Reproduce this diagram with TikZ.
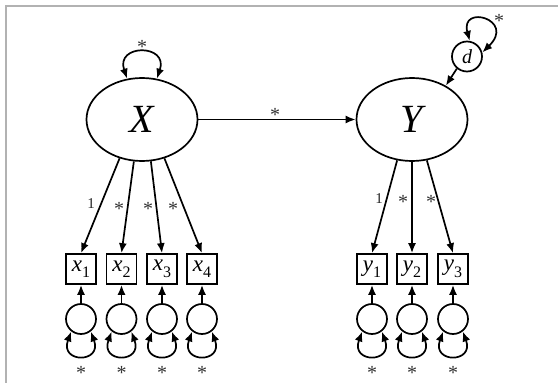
\documentclass[tikz,border=0pt]{standalone}
\usepackage{fontspec}
\setmainfont{Liberation Serif}
\usetikzlibrary{shapes.geometric,arrows.meta}
\tikzset{
  lat/.style={draw,ellipse,line width=1.7pt,minimum width=111pt,minimum height=83pt,inner sep=0pt,font=\fontsize{40}{40}\selectfont\itshape},
  obs/.style={draw,rectangle,line width=1.7pt,minimum size=30pt,inner sep=0pt,font=\fontsize{23}{23}\selectfont},
  res/.style={draw,circle,line width=1.7pt,minimum size=30pt,inner sep=0pt},
  dist/.style={draw,circle,line width=1.7pt,minimum size=30pt,inner sep=0pt,font=\fontsize{20}{20}\selectfont\itshape},
  conn/.style={line width=1.7pt,-{Latex[length=10pt,width=8pt]}},
  loop/.style={line width=1.7pt,{Latex[length=10pt,width=8pt]}-{Latex[length=10pt,width=8pt]}},
  lab/.style={font=\fontsize{15}{15}\selectfont,text=black!85,inner sep=0pt},
  star/.style={font=\fontsize{20}{20}\selectfont,text=black!80,inner sep=0pt},
  frame/.style={draw=black!30,line width=1.8pt}
}
\newcommand{\ov}[2]{{\itshape #1}\raisebox{-0.28em}{\fontsize{16}{16}\selectfont #2}}
\begin{document}
\begin{tikzpicture}[x=1pt,y=-1pt]
\useasboundingbox (0,0) rectangle (558,383);
\draw[frame] (6,390) -- (6,6) -- (565,6);

\node[lat] (X) at (142,119.5) {X};
\node[lat] (Y) at (412,119.5) {Y};
\node[dist] (d) at (467,56.5) {d};

\foreach \i/\x in {1/81,2/121.5,3/162,4/202}{
  \node[obs] (x\i) at (\x,269) {\ov{x}{\i}};
  \node[res] (e\i) at (\x,319) {};
  \draw[conn] (e\i) -- (x\i);
  \draw[loop] (e\i.232) .. controls +(-12,32) and +(12,32) .. (e\i.308);
  \node[star] (s\i) at (\x,373) {*};
}
\foreach \i/\x in {1/372,2/412,3/453}{
  \node[obs] (y\i) at (\x,269) {\ov{y}{\i}};
  \node[res] (f\i) at (\x,319) {};
  \draw[conn] (f\i) -- (y\i);
  \draw[loop] (f\i.232) .. controls +(-12,32) and +(12,32) .. (f\i.308);
  \node[star] (t\i) at (\x,373) {*};
}

\draw[conn] (X.240) -- (x1.north);
\draw[conn] (X.259) -- (x2.north);
\draw[conn] (X.282) -- (x3.north);
\draw[conn] (X.300) -- (x4.north);
\draw[conn] (Y.250) -- (y1.north);
\draw[conn] (Y.270) -- (y2.north);
\draw[conn] (Y.290) -- (y3.north);

\node[lab] (l1) at (91,204) {1};
\node[star] (l2) at (119,209) {*};
\node[star] (l3) at (148,209) {*};
\node[star] (l4) at (173,209) {*};
\node[lab] (m1) at (379,199) {1};
\node[star] (m2) at (403,202) {*};
\node[star] (m3) at (431,202) {*};

\draw[conn] (X) -- (Y);
\node[star] (xy) at (275,115) {*};

\draw[loop] (X.110) .. controls +(-12,-35) and +(12,-35) .. (X.70);
\node[star] (sx) at (142,47) {*};

\draw[conn] (d.230) -- (Y.45);
\draw[loop] (d.80) .. controls +(-10,-37) and +(34,-33) .. (d.15);
\node[star] (sd) at (499,21) {*};
\end{tikzpicture}
\end{document}
